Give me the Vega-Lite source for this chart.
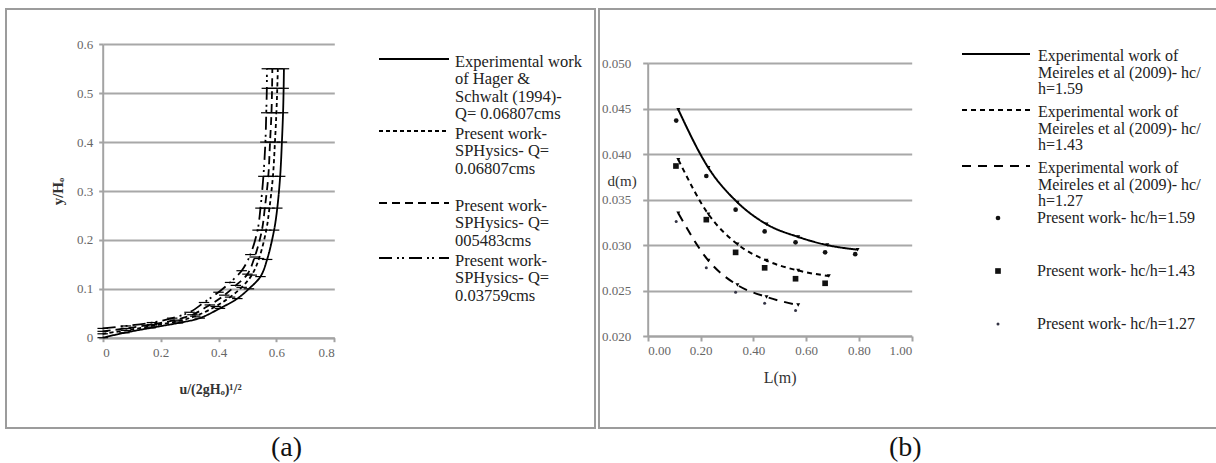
{
  "$schema": "https://vega.github.io/schema/vega-lite/v6.json",
  "background": "white",
  "padding": {"left": 5, "top": 8, "right": 0, "bottom": 0},
  "spacing": 2,
  "config": {
    "view": {"stroke": "#9c9c9c", "strokeWidth": 2},
    "font": "Liberation Serif",
    "axis": {
      "labelFont": "Liberation Serif", "titleFont": "Liberation Serif",
      "domainColor": "#a3a3a3", "domainWidth": 2,
      "tickColor": "#a3a3a3", "tickWidth": 2,
      "gridColor": "#a8a8a8", "gridWidth": 2,
      "labelColor": "#666666", "titleColor": "#333333"
    },
    "legend": {"labelFont": "Liberation Serif"}
  },
  "datasets": {
    "a": [
      {"u": 0, "y": 0, "s": "Experimental work|of Hager &|Schwalt (1994)-|Q= 0.06807cms"},
      {"u": 0.075, "y": 0.01, "s": "Experimental work|of Hager &|Schwalt (1994)-|Q= 0.06807cms"},
      {"u": 0.165, "y": 0.02, "s": "Experimental work|of Hager &|Schwalt (1994)-|Q= 0.06807cms"},
      {"u": 0.26, "y": 0.03, "s": "Experimental work|of Hager &|Schwalt (1994)-|Q= 0.06807cms"},
      {"u": 0.335, "y": 0.04, "s": "Experimental work|of Hager &|Schwalt (1994)-|Q= 0.06807cms"},
      {"u": 0.405, "y": 0.06, "s": "Experimental work|of Hager &|Schwalt (1994)-|Q= 0.06807cms"},
      {"u": 0.465, "y": 0.08, "s": "Experimental work|of Hager &|Schwalt (1994)-|Q= 0.06807cms"},
      {"u": 0.505, "y": 0.1, "s": "Experimental work|of Hager &|Schwalt (1994)-|Q= 0.06807cms"},
      {"u": 0.545, "y": 0.125, "s": "Experimental work|of Hager &|Schwalt (1994)-|Q= 0.06807cms"},
      {"u": 0.568, "y": 0.16, "s": "Experimental work|of Hager &|Schwalt (1994)-|Q= 0.06807cms"},
      {"u": 0.592, "y": 0.22, "s": "Experimental work|of Hager &|Schwalt (1994)-|Q= 0.06807cms"},
      {"u": 0.603, "y": 0.265, "s": "Experimental work|of Hager &|Schwalt (1994)-|Q= 0.06807cms"},
      {"u": 0.613, "y": 0.33, "s": "Experimental work|of Hager &|Schwalt (1994)-|Q= 0.06807cms"},
      {"u": 0.619, "y": 0.4, "s": "Experimental work|of Hager &|Schwalt (1994)-|Q= 0.06807cms"},
      {"u": 0.623, "y": 0.46, "s": "Experimental work|of Hager &|Schwalt (1994)-|Q= 0.06807cms"},
      {"u": 0.625, "y": 0.51, "s": "Experimental work|of Hager &|Schwalt (1994)-|Q= 0.06807cms"},
      {"u": 0.626, "y": 0.55, "s": "Experimental work|of Hager &|Schwalt (1994)-|Q= 0.06807cms"},

      {"u": 0, "y": 0.008, "s": "Present work-|SPHysics- Q=|0.06807cms"},
      {"u": 0.08, "y": 0.015, "s": "Present work-|SPHysics- Q=|0.06807cms"},
      {"u": 0.17, "y": 0.024, "s": "Present work-|SPHysics- Q=|0.06807cms"},
      {"u": 0.26, "y": 0.034, "s": "Present work-|SPHysics- Q=|0.06807cms"},
      {"u": 0.32, "y": 0.044, "s": "Present work-|SPHysics- Q=|0.06807cms"},
      {"u": 0.39, "y": 0.064, "s": "Present work-|SPHysics- Q=|0.06807cms"},
      {"u": 0.44, "y": 0.083, "s": "Present work-|SPHysics- Q=|0.06807cms"},
      {"u": 0.48, "y": 0.103, "s": "Present work-|SPHysics- Q=|0.06807cms"},
      {"u": 0.515, "y": 0.128, "s": "Present work-|SPHysics- Q=|0.06807cms"},
      {"u": 0.54, "y": 0.162, "s": "Present work-|SPHysics- Q=|0.06807cms"},
      {"u": 0.565, "y": 0.22, "s": "Present work-|SPHysics- Q=|0.06807cms"},
      {"u": 0.576, "y": 0.265, "s": "Present work-|SPHysics- Q=|0.06807cms"},
      {"u": 0.588, "y": 0.33, "s": "Present work-|SPHysics- Q=|0.06807cms"},
      {"u": 0.595, "y": 0.4, "s": "Present work-|SPHysics- Q=|0.06807cms"},
      {"u": 0.6, "y": 0.46, "s": "Present work-|SPHysics- Q=|0.06807cms"},
      {"u": 0.603, "y": 0.51, "s": "Present work-|SPHysics- Q=|0.06807cms"},
      {"u": 0.605, "y": 0.55, "s": "Present work-|SPHysics- Q=|0.06807cms"},

      {"u": 0, "y": 0.013, "s": "Present work-|SPHysics- Q=|005483cms"},
      {"u": 0.08, "y": 0.019, "s": "Present work-|SPHysics- Q=|005483cms"},
      {"u": 0.17, "y": 0.027, "s": "Present work-|SPHysics- Q=|005483cms"},
      {"u": 0.25, "y": 0.036, "s": "Present work-|SPHysics- Q=|005483cms"},
      {"u": 0.31, "y": 0.047, "s": "Present work-|SPHysics- Q=|005483cms"},
      {"u": 0.37, "y": 0.067, "s": "Present work-|SPHysics- Q=|005483cms"},
      {"u": 0.42, "y": 0.087, "s": "Present work-|SPHysics- Q=|005483cms"},
      {"u": 0.46, "y": 0.107, "s": "Present work-|SPHysics- Q=|005483cms"},
      {"u": 0.5, "y": 0.13, "s": "Present work-|SPHysics- Q=|005483cms"},
      {"u": 0.525, "y": 0.165, "s": "Present work-|SPHysics- Q=|005483cms"},
      {"u": 0.55, "y": 0.22, "s": "Present work-|SPHysics- Q=|005483cms"},
      {"u": 0.56, "y": 0.265, "s": "Present work-|SPHysics- Q=|005483cms"},
      {"u": 0.572, "y": 0.33, "s": "Present work-|SPHysics- Q=|005483cms"},
      {"u": 0.578, "y": 0.4, "s": "Present work-|SPHysics- Q=|005483cms"},
      {"u": 0.583, "y": 0.46, "s": "Present work-|SPHysics- Q=|005483cms"},
      {"u": 0.585, "y": 0.51, "s": "Present work-|SPHysics- Q=|005483cms"},
      {"u": 0.586, "y": 0.55, "s": "Present work-|SPHysics- Q=|005483cms"},

      {"u": 0, "y": 0.019, "s": "Present work-|SPHysics- Q=|0.03759cms"},
      {"u": 0.08, "y": 0.024, "s": "Present work-|SPHysics- Q=|0.03759cms"},
      {"u": 0.17, "y": 0.031, "s": "Present work-|SPHysics- Q=|0.03759cms"},
      {"u": 0.24, "y": 0.04, "s": "Present work-|SPHysics- Q=|0.03759cms"},
      {"u": 0.3, "y": 0.052, "s": "Present work-|SPHysics- Q=|0.03759cms"},
      {"u": 0.35, "y": 0.072, "s": "Present work-|SPHysics- Q=|0.03759cms"},
      {"u": 0.4, "y": 0.093, "s": "Present work-|SPHysics- Q=|0.03759cms"},
      {"u": 0.44, "y": 0.113, "s": "Present work-|SPHysics- Q=|0.03759cms"},
      {"u": 0.48, "y": 0.137, "s": "Present work-|SPHysics- Q=|0.03759cms"},
      {"u": 0.51, "y": 0.17, "s": "Present work-|SPHysics- Q=|0.03759cms"},
      {"u": 0.535, "y": 0.22, "s": "Present work-|SPHysics- Q=|0.03759cms"},
      {"u": 0.545, "y": 0.265, "s": "Present work-|SPHysics- Q=|0.03759cms"},
      {"u": 0.555, "y": 0.33, "s": "Present work-|SPHysics- Q=|0.03759cms"},
      {"u": 0.562, "y": 0.4, "s": "Present work-|SPHysics- Q=|0.03759cms"},
      {"u": 0.565, "y": 0.46, "s": "Present work-|SPHysics- Q=|0.03759cms"},
      {"u": 0.567, "y": 0.51, "s": "Present work-|SPHysics- Q=|0.03759cms"},
      {"u": 0.567, "y": 0.55, "s": "Present work-|SPHysics- Q=|0.03759cms"}
    ],
    "bexp": [
      {"L": 0.116, "d": 0.0449, "e": "Experimental work of|Meireles et al (2009)- hc/|h=1.59"},
      {"L": 0.23, "d": 0.0385, "e": "Experimental work of|Meireles et al (2009)- hc/|h=1.59"},
      {"L": 0.34, "d": 0.0347, "e": "Experimental work of|Meireles et al (2009)- hc/|h=1.59"},
      {"L": 0.45, "d": 0.0323, "e": "Experimental work of|Meireles et al (2009)- hc/|h=1.59"},
      {"L": 0.57, "d": 0.0309, "e": "Experimental work of|Meireles et al (2009)- hc/|h=1.59"},
      {"L": 0.68, "d": 0.03, "e": "Experimental work of|Meireles et al (2009)- hc/|h=1.59"},
      {"L": 0.795, "d": 0.0295, "e": "Experimental work of|Meireles et al (2009)- hc/|h=1.59"},
      {"L": 0.116, "d": 0.0394, "e": "Experimental work of|Meireles et al (2009)- hc/|h=1.43"},
      {"L": 0.23, "d": 0.0334, "e": "Experimental work of|Meireles et al (2009)- hc/|h=1.43"},
      {"L": 0.34, "d": 0.0301, "e": "Experimental work of|Meireles et al (2009)- hc/|h=1.43"},
      {"L": 0.45, "d": 0.0283, "e": "Experimental work of|Meireles et al (2009)- hc/|h=1.43"},
      {"L": 0.57, "d": 0.0272, "e": "Experimental work of|Meireles et al (2009)- hc/|h=1.43"},
      {"L": 0.686, "d": 0.0266, "e": "Experimental work of|Meireles et al (2009)- hc/|h=1.43"},
      {"L": 0.116, "d": 0.0335, "e": "Experimental work of|Meireles et al (2009)- hc/|h=1.27"},
      {"L": 0.23, "d": 0.0283, "e": "Experimental work of|Meireles et al (2009)- hc/|h=1.27"},
      {"L": 0.34, "d": 0.0256, "e": "Experimental work of|Meireles et al (2009)- hc/|h=1.27"},
      {"L": 0.45, "d": 0.0243, "e": "Experimental work of|Meireles et al (2009)- hc/|h=1.27"},
      {"L": 0.57, "d": 0.0234, "e": "Experimental work of|Meireles et al (2009)- hc/|h=1.27"}
    ],
    "bpres": [
      {"L": 0.108, "d": 0.0437, "p": "Present work- hc/h=1.59"},
      {"L": 0.222, "d": 0.0376, "p": "Present work- hc/h=1.59"},
      {"L": 0.333, "d": 0.0339, "p": "Present work- hc/h=1.59"},
      {"L": 0.443, "d": 0.0315, "p": "Present work- hc/h=1.59"},
      {"L": 0.56, "d": 0.0303, "p": "Present work- hc/h=1.59"},
      {"L": 0.672, "d": 0.0292, "p": "Present work- hc/h=1.59"},
      {"L": 0.786, "d": 0.029, "p": "Present work- hc/h=1.59"},
      {"L": 0.107, "d": 0.0387, "p": "Present work- hc/h=1.43"},
      {"L": 0.222, "d": 0.0328, "p": "Present work- hc/h=1.43"},
      {"L": 0.333, "d": 0.0292, "p": "Present work- hc/h=1.43"},
      {"L": 0.443, "d": 0.0275, "p": "Present work- hc/h=1.43"},
      {"L": 0.56, "d": 0.0263, "p": "Present work- hc/h=1.43"},
      {"L": 0.672, "d": 0.0258, "p": "Present work- hc/h=1.43"},
      {"L": 0.108, "d": 0.0326, "p": "Present work- hc/h=1.27"},
      {"L": 0.222, "d": 0.0275, "p": "Present work- hc/h=1.27"},
      {"L": 0.333, "d": 0.0248, "p": "Present work- hc/h=1.27"},
      {"L": 0.443, "d": 0.0236, "p": "Present work- hc/h=1.27"},
      {"L": 0.56, "d": 0.0228, "p": "Present work- hc/h=1.27"}
    ]
  },
  "resolve": {
    "scale": {"strokeDash": "independent", "shape": "independent", "size": "independent", "color": "independent"},
    "legend": {"strokeDash": "independent", "shape": "independent", "size": "independent"}
  },
  "hconcat": [
    {
      "width": 589,
      "height": 419,
      "title": {"text": "(a)", "orient": "bottom", "anchor": "middle", "font": "Liberation Serif", "fontSize": 28, "fontWeight": "normal", "color": "#111111", "offset": 6, "dx": -14},
      "data": {"name": "a"},
      "layer": [
        {
          "mark": {"type": "line", "color": "black", "strokeWidth": 1.8, "interpolate": "catmull-rom"},
          "encoding": {
            "x": {"field": "u", "type": "quantitative",
              "scale": {"domain": [0, 0.8], "range": [96.7, 328.3], "nice": false, "zero": false},
              "axis": {"values": [0, 0.2, 0.4, 0.6, 0.8], "format": ".1~f", "offset": -90.3, "grid": false,
                "title": "u/(2gHₒ)¹/²", "titleFont": "Liberation Serif", "titleFontWeight": "bold", "titleFontSize": 14, "titlePadding": 23, "titleX": 204,
                "labelFont": "Liberation Serif", "labelFontSize": 13, "labelPadding": 5, "tickSize": 4}},
            "y": {"field": "y", "type": "quantitative",
              "scale": {"domain": [0, 0.6], "range": [328.7, 35.3], "nice": false, "zero": false},
              "axis": {"values": [0, 0.1, 0.2, 0.3, 0.4, 0.5, 0.6], "format": ".1~f", "offset": -96.7, "grid": true,
                "title": "y/Hₒ", "titleFont": "Liberation Serif", "titleFontWeight": "bold", "titleFontSize": 15, "titlePadding": 11,
                "labelFont": "Liberation Serif", "labelFontSize": 13, "labelPadding": 6, "tickSize": 4}},
            "order": {"field": "y", "type": "quantitative"},
            "strokeDash": {"field": "s", "type": "nominal",
              "scale": {"domain": ["Experimental work|of Hager &|Schwalt (1994)-|Q= 0.06807cms", "Present work-|SPHysics- Q=|0.06807cms", "Present work-|SPHysics- Q=|005483cms", "Present work-|SPHysics- Q=|0.03759cms"],
                "range": [[1, 0], [4, 3], [8, 5], [13, 5, 2, 3, 2, 5]]},
              "legend": {"title": null, "orient": "none", "legendX": 372, "legendY": 42, "padding": 0,
                "symbolType": "stroke", "symbolSize": 4900, "symbolStrokeWidth": 2, "symbolStrokeColor": "black",
                "clipHeight": 16, "labelFont": "Liberation Serif", "labelFontSize": 16.5, "labelColor": "#222222", "labelOffset": 5, "labelLimit": 400,
                "labelBaseline": "top", "labelExpr": "split(datum.label + (datum.label == 'Present work-|SPHysics- Q=|0.06807cms' ? '| ' : ''), '|')", "rowPadding": 0,
                "encode": {"labels": {"update": {"dy": {"value": -5}, "lineHeight": {"value": 17.4}}}}}}
          }
        },
        {
          "mark": {"type": "point", "shape": "stroke", "size": 110, "color": "black", "strokeWidth": 1.2, "opacity": 1},
          "encoding": {
            "x": {"field": "u", "type": "quantitative"},
            "y": {"field": "y", "type": "quantitative"},
            "detail": {"field": "s", "type": "nominal"}
          }
        }
      ]
    },
    {
      "width": 618,
      "height": 419,
      "title": {"text": "(b)", "orient": "bottom", "anchor": "start", "font": "Liberation Serif", "fontSize": 28, "fontWeight": "normal", "color": "#111111", "offset": 6, "dx": 290},
      "layer": [
        {
          "data": {"name": "bexp"},
          "mark": {"type": "line", "color": "black", "strokeWidth": 2, "interpolate": "monotone"},
          "encoding": {
            "x": {"field": "L", "type": "quantitative",
              "scale": {"domain": [0, 1], "range": [48.7, 312.7], "nice": false, "zero": false},
              "axis": {"values": [0, 0.2, 0.4, 0.6, 0.8, 1], "format": ".2f", "offset": -92, "grid": false,
                "title": "L(m)", "titleFont": "Liberation Serif", "titleFontWeight": "normal", "titleFontSize": 16, "titlePadding": 12,
                "labelFont": "Liberation Serif", "labelFontSize": 13, "labelPadding": 3, "tickSize": 5}},
            "y": {"field": "d", "type": "quantitative",
              "scale": {"domain": [0.02, 0.05], "range": [327, 54.3], "nice": false, "zero": false},
              "axis": {"values": [0.02, 0.025, 0.03, 0.035, 0.04, 0.045, 0.05], "format": ".3f", "offset": -48.7, "grid": true,
                "title": "d(m)", "titleFont": "Liberation Serif", "titleFontWeight": "normal", "titleFontSize": 15, "titleAngle": 0,
                "titleX": -26, "titleY": 171, "titleAlign": "center", "titleBaseline": "middle",
                "labelFont": "Liberation Serif", "labelFontSize": 13, "labelPadding": 12, "tickSize": 5}},
            "strokeDash": {"field": "e", "type": "nominal",
              "scale": {"domain": ["Experimental work of|Meireles et al (2009)- hc/|h=1.59", "Experimental work of|Meireles et al (2009)- hc/|h=1.43", "Experimental work of|Meireles et al (2009)- hc/|h=1.27"],
                "range": [[1, 0], [5, 4], [9, 7]]},
              "legend": {"title": null, "orient": "none", "legendX": 362, "legendY": 37, "padding": 0,
                "symbolType": "stroke", "symbolSize": 4624, "symbolStrokeWidth": 2, "symbolStrokeColor": "black",
                "clipHeight": 16, "labelFont": "Liberation Serif", "labelFontSize": 16, "labelColor": "#222222", "labelOffset": 7, "labelLimit": 400,
                "labelBaseline": "top", "labelExpr": "split(datum.label, '|')", "rowPadding": 5,
                "encode": {"labels": {"update": {"dy": {"value": -6}, "lineHeight": {"value": 16.5}}}}}}
          }
        },
        {
          "data": {"name": "bexp"},
          "mark": {"type": "point", "shape": "triangle-down", "size": 16, "filled": true, "color": "black", "opacity": 1},
          "encoding": {
            "x": {"field": "L", "type": "quantitative"},
            "y": {"field": "d", "type": "quantitative"},
            "detail": {"field": "e", "type": "nominal"}
          }
        },
        {
          "data": {"name": "bpres"},
          "mark": {"type": "point", "filled": true, "opacity": 1},
          "encoding": {
            "x": {"field": "L", "type": "quantitative"},
            "y": {"field": "d", "type": "quantitative"},
            "shape": {"field": "p", "type": "nominal",
              "scale": {"domain": ["Present work- hc/h=1.59", "Present work- hc/h=1.43", "Present work- hc/h=1.27"], "range": ["circle", "square", "circle"]},
              "legend": {"title": null, "orient": "none", "legendX": 391, "legendY": 201, "padding": 0,
                "clipHeight": 16, "labelFont": "Liberation Serif", "labelFontSize": 16, "labelColor": "#222222", "labelOffset": 31, "labelLimit": 400,
                "labelBaseline": "middle", "rowPadding": 37}},
            "size": {"field": "p", "type": "nominal",
              "scale": {"type": "ordinal", "domain": ["Present work- hc/h=1.59", "Present work- hc/h=1.43", "Present work- hc/h=1.27"], "range": [22, 32, 9]}},
            "color": {"field": "p", "type": "nominal",
              "scale": {"domain": ["Present work- hc/h=1.59", "Present work- hc/h=1.43", "Present work- hc/h=1.27"], "range": ["#111111", "#111111", "#333344"]}}
          }
        }
      ]
    }
  ]
}
